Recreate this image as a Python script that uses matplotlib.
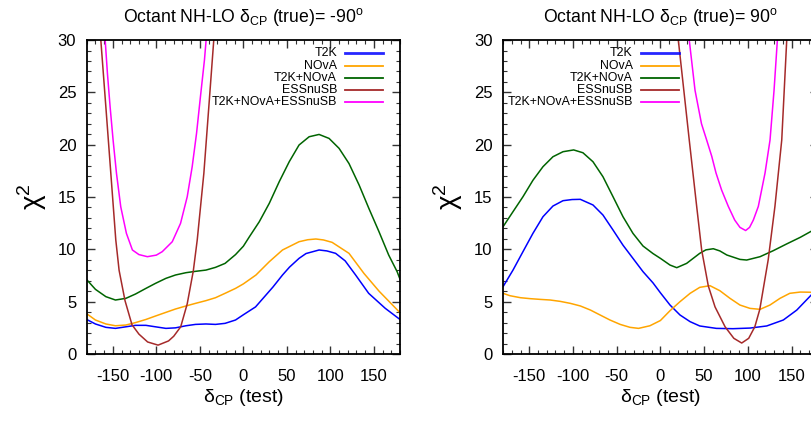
import matplotlib
matplotlib.use("Agg")
import matplotlib.pyplot as plt
from matplotlib.ticker import MultipleLocator

plt.rcParams['font.family'] = ['Liberation Sans', 'DejaVu Sans']
plt.rcParams['mathtext.fontset'] = 'custom'
plt.rcParams['mathtext.rm'] = 'Liberation Sans'
plt.rcParams['mathtext.it'] = 'Liberation Sans:italic'
plt.rcParams['mathtext.bf'] = 'Liberation Sans:bold'
plt.rcParams['axes.unicode_minus'] = False

# ---------------- data: left panel, delta_CP(true) = -90 ----------------
L_t2k_x = [-180, -170, -158, -147, -135, -124, -112, -101, -89, -78, -66, -55, -43, -32, -21, -9,
           0, 14, 34, 45, 53, 64, 72, 87, 96, 106, 117, 129, 144, 163, 180]
L_t2k_y = [3.3, 2.87, 2.55, 2.45, 2.6, 2.74, 2.74, 2.6, 2.45, 2.5, 2.7, 2.83, 2.87, 2.83, 2.93, 3.25,
           3.75, 4.5, 6.4, 7.55, 8.3, 9.14, 9.6, 9.94, 9.85, 9.62, 8.9, 7.55, 5.8, 4.37, 3.3]

L_nova_x = [-180, -170, -158, -147, -135, -124, -112, -101, -89, -78, -66, -55, -43, -32, -21, -9,
            0, 14.5, 29.8, 45, 64, 74, 83.3, 92, 102, 121.4, 138.6, 156, 180]
L_nova_y = [3.85, 3.25, 2.87, 2.7, 2.77, 3.0, 3.3, 3.63, 3.98, 4.3, 4.59, 4.84, 5.1, 5.38, 5.8, 6.27,
            6.7, 7.55, 8.82, 9.94, 10.73, 10.92, 10.99, 10.9, 10.67, 9.62, 7.7, 6.0, 3.95]

L_comb_x = [-180, -170, -158, -147, -135, -124, -112, -101, -89, -78, -66, -55, -43, -32, -21, -9,
            0, 6.9, 18.3, 29.8, 41.2, 52.7, 64, 75.6, 87, 98.5, 110, 121.4, 133, 144.3, 155.8, 167,
            176.7, 180]
L_comb_y = [7.1, 6.18, 5.48, 5.16, 5.32, 5.73, 6.27, 6.75, 7.23, 7.55, 7.77, 7.9, 8.02, 8.28, 8.66, 9.5,
            10.3, 11.2, 12.64, 14.4, 16.46, 18.37, 19.97, 20.76, 20.98, 20.6, 19.65, 18.2, 16.15, 13.9,
            11.7, 9.46, 7.87, 7.15]

L_ess_x = [-163.8, -158, -152.3, -146.6, -142.8, -136, -128, -120, -110, -98, -86, -80, -72, -64.5,
           -57.5, -53, -45.4, -39.7, -34]
L_ess_y = [30, 23.6, 17.26, 10.9, 8.0, 5.1, 2.8, 1.9, 1.15, 0.85, 1.25, 1.7, 2.6, 4.8,
           7.95, 10.9, 17.26, 23.6, 30]

L_all_x = [-158.8, -156.2, -153.1, -149.7, -145.8, -140.9, -134.4, -127.5, -120, -110.3, -100, -93.2,
           -81.7, -72.2, -64.5, -58.8, -53.8, -49.3, -44.7, -42.8]
L_all_y = [30, 26.8, 23.6, 20.45, 17.26, 14.07, 11.53, 9.94, 9.5, 9.3, 9.45, 9.78,
           10.73, 12.48, 15.03, 17.9, 21.08, 24.6, 28.1, 30]

# ---------------- data: right panel, delta_CP(true) = 90 ----------------
R_t2k_x = [-180, -168.6, -157.2, -145.8, -134.3, -122.9, -111.4, -101, -91.6, -77.1, -65.7, -54.2,
           -42.8, -31.4, -19.9, -8.5, 0, 11, 22.4, 34, 45, 64, 83, 102.5, 121.6, 140.6, 156, 173.6, 180]
R_t2k_y = [6.43, 8.02, 9.78, 11.53, 13.12, 14.14, 14.65, 14.76, 14.78, 14.24, 13.28, 11.85,
           10.4, 9.14, 7.87, 6.8, 5.85, 4.68, 3.73, 3.09, 2.68, 2.45, 2.42, 2.48, 2.68, 3.25, 4.2, 5.73, 6.3]

R_nova_x = [-180, -172, -160, -149, -137.5, -126, -114.6, -103, -91.5, -80, -69, -57.7, -46, -34.8,
            -25, -12, 0, 11, 22.4, 34, 45, 56.7, 68, 79.6, 91, 102.5, 114, 125.3, 136.8, 148,
            160, 173.6, 180]
R_nova_y = [5.8, 5.57, 5.38, 5.29, 5.22, 5.16, 5.03, 4.84, 4.59, 4.2, 3.73, 3.25, 2.83, 2.55,
            2.45, 2.7, 3.2, 4.14, 5.0, 5.8, 6.37, 6.53, 6.05, 5.32, 4.68, 4.36, 4.27, 4.68, 5.32, 5.8,
            5.92, 5.9, 5.85]

R_comb_x = [-180, -168.6, -157.2, -145.8, -134.3, -122.9, -111.4, -99.2, -88.6, -77.1, -65.7, -54.2,
            -42.8, -31.4, -19.9, -8.5, 0, 11, 18.7, 30, 45, 52, 60.5, 68, 76, 91, 98.7, 114, 129, 144,
            160, 173.6, 180]
R_comb_y = [12.16, 13.6, 15.03, 16.6, 17.9, 18.85, 19.33, 19.5, 19.23, 18.37, 16.94, 15.03,
            13.12, 11.53, 10.32, 9.6, 9.14, 8.5, 8.25, 8.66, 9.62, 9.95, 10.06, 9.85, 9.46, 9.04, 8.98,
            9.3, 9.87, 10.5, 11.15, 11.78, 12.05]

R_ess_x = [20.5, 33, 41.5, 47.2, 54.8, 62.5, 74, 84, 93, 101, 108, 113.7, 123.3, 131, 138.8, 144.5]
R_ess_y = [30, 20.45, 14.1, 9.94, 6.5, 4.5, 2.6, 1.5, 1.05, 1.5, 2.6, 4.27, 9.0, 14.1, 20.45, 30]

R_all_x = [33, 39.6, 47, 52.9, 58.7, 63.6, 70, 77.7, 85, 91, 97.5, 102, 106.3, 112, 119.7, 125.4,
           130, 133.8]
R_all_y = [30, 25.2, 22.0, 20.45, 18.9, 17.3, 15.67, 14.1, 12.8, 12.1, 11.8, 12.1, 12.8, 14.1,
           17.3, 20.45, 25.2, 30]

labels = ['T2K', 'NOvA', 'T2K+NOvA', 'ESSnuSB', 'T2K+NOvA+ESSnuSB']
colors = ['#0000ff', '#ffa500', '#006400', '#a52a2a', '#ff00ff']
titles = [r'Octant NH-LO δ$_{\rm CP}$ (true)= -90$^{\rm o}$',
          r'Octant NH-LO δ$_{\rm CP}$ (true)= 90$^{\rm o}$']
xticks = [-150, -100, -50, 0, 50, 100, 150]
yticks = [0, 5, 10, 15, 20, 25, 30]

panels = [
    [(L_t2k_x, L_t2k_y), (L_nova_x, L_nova_y), (L_comb_x, L_comb_y), (L_ess_x, L_ess_y), (L_all_x, L_all_y)],
    [(R_t2k_x, R_t2k_y), (R_nova_x, R_nova_y), (R_comb_x, R_comb_y), (R_ess_x, R_ess_y), (R_all_x, R_all_y)],
]

fig = plt.figure(figsize=(8.12, 4.21), dpi=100)
positions = [[0.1068, 0.1591, 0.3858, 0.7458], [0.6195, 0.1591, 0.3876, 0.7458]]
legend_pos = [(0.799, 0.826, 0.945), (0.412, 0.4385, 0.558)]
legend_rows = [0.9576, 0.918, 0.880, 0.842, 0.803]

for p in range(2):
    ax = fig.add_axes(positions[p])
    for (xs, ys), c in zip(panels[p], colors):
        ax.plot(xs, ys, color=c, lw=1.1, solid_joinstyle='round', solid_capstyle='round')
    ax.set_xlim(-180, 180)
    ax.set_ylim(0, 30)
    ax.set_xticks(xticks)
    ax.set_yticks(yticks)
    ax.xaxis.set_minor_locator(MultipleLocator(10))
    ax.yaxis.set_minor_locator(MultipleLocator(1))
    ax.tick_params(which='both', direction='in', top=True, right=True, colors='#333333',
                   labelcolor='black', labelsize=12)
    ax.tick_params(which='major', length=6, width=1.0)
    ax.tick_params(which='minor', length=3, width=0.8)
    ax.tick_params(axis='x', pad=10.5)
    ax.tick_params(axis='y', pad=7.5)
    for s in ax.spines.values():
        s.set_linewidth(1.3)
    ax.set_title(titles[p], fontsize=12.7, pad=13)
    ax.set_xlabel(r'δ$_{\rm CP}$ (test)', fontsize=14, labelpad=2.5)
    ax.set_ylabel(r'χ$^{2}$', fontsize=20, labelpad=6.5)
    tx, lx0, lx1 = legend_pos[p]
    for lab, c, ry in zip(labels, colors, legend_rows):
        ax.text(tx, ry, lab, transform=ax.transAxes, ha='right', va='center', fontsize=8.9)
        ax.plot([lx0, lx1], [ry, ry], transform=ax.transAxes, color=c, lw=1.3 if lab != 'T2K' else 2.0,
                alpha=0.85 if lab == 'T2K' else 1.0)

fig.savefig('out.png', dpi=100)
